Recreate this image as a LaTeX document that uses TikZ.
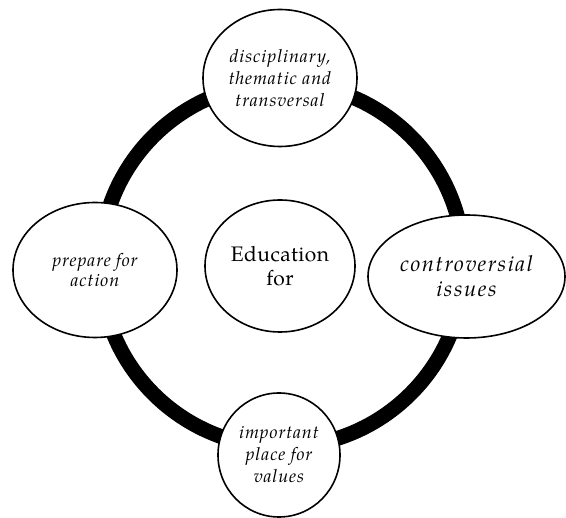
\documentclass[tikz,border=0pt]{standalone}
\usepackage{fontspec}
\setmainfont{TeX Gyre Pagella}
\usetikzlibrary{shapes.geometric}
\tikzset{
  bubble/.style={ellipse, draw=black, line width=1.6pt, fill=white, inner sep=0pt, align=center, text=black},
  smalltext/.style={font=\fontsize{18}{22}\selectfont\itshape\addfontfeatures{LetterSpace=5}},
  ring/.style={line width=15pt, draw=black},
}
\begin{document}
\begin{tikzpicture}[x=1pt,y=-1pt]
\useasboundingbox (0,0) rectangle (566,518);
\coordinate (ringc) at (282,265);
\draw[ring] (ringc) circle[radius=182pt];
\node[bubble, smalltext, minimum width=154pt, minimum height=137pt] (top) at (280,78) {disciplinary,\\thematic and\\transversal};
\node[bubble, smalltext, minimum width=164pt, minimum height=135pt, font=\fontsize{18}{20.5}\selectfont\itshape\addfontfeatures{LetterSpace=5}] (left) at (95,270) {prepare for\\action};
\node[bubble, minimum width=197pt, minimum height=123pt, font=\fontsize{22}{25}\selectfont\itshape\addfontfeatures{LetterSpace=7}] (right) at (466.5,276.5) {controversial\\issues};
\node[bubble, smalltext, minimum width=122pt, minimum height=124pt] (bottom) at (279,455) {important\\place for\\values};
\node[bubble, minimum width=150pt, minimum height=132pt, font=\fontsize{21}{24}\selectfont\addfontfeatures{LetterSpace=2}] (center) at (280,266) {Education\\for};
\end{tikzpicture}
\end{document}
